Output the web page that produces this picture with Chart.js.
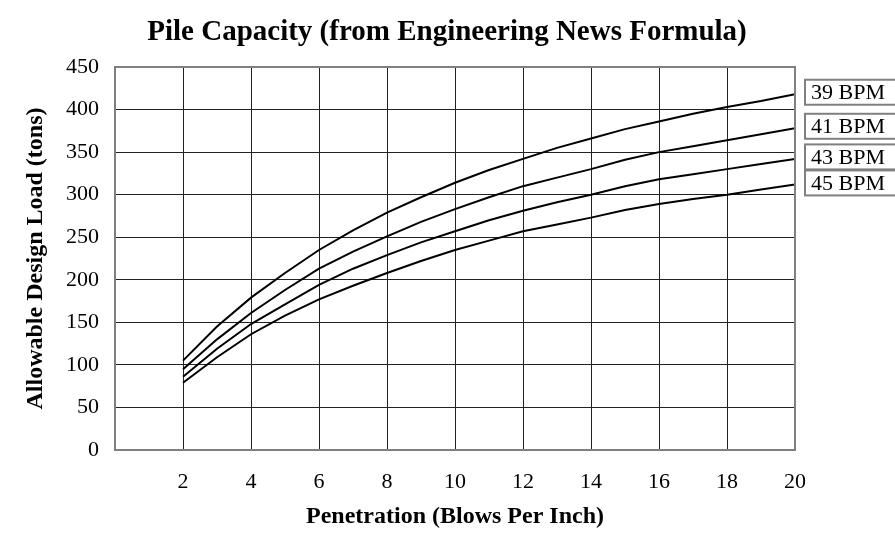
<!DOCTYPE html>
<html>
<head>
<meta charset="utf-8">
<title>Pile Capacity</title>
<script src="https://cdn.jsdelivr.net/npm/chart.js@4.4.0/dist/chart.umd.min.js"></script>
<style>
    html, body { margin: 0; padding: 0; background: #fff; }
    #wrap { width: 895px; height: 534px; }
</style>
</head>
<body>
<div id="wrap"><canvas id="pileChart" width="895" height="534"></canvas></div>
<script>
// Penetration values (blows per inch)
const penetration = [2, 3, 4, 5, 6, 7, 8, 9, 10, 11, 12, 13, 14, 15, 16, 17, 18, 19, 20];

// Allowable design load (tons) for each hammer speed
const load39 = [105, 145, 179, 208, 235, 258, 279, 297, 314, 329, 342, 355, 366, 377, 386, 395, 403, 410, 418];
const load41 = [95, 130, 161, 188, 213, 233, 251, 268, 283, 297, 310, 320, 330, 341, 350, 357, 364, 371, 378];
const load43 = [86, 119, 148, 171, 194, 213, 229, 244, 257, 270, 281, 291, 300, 310, 318, 324, 330, 336, 342];
const load45 = [79, 109, 136, 158, 177, 193, 208, 222, 235, 246, 257, 265, 273, 282, 289, 295, 300, 306, 312];

const seriesNames = ['39 BPM', '41 BPM', '43 BPM', '45 BPM'];

// Axis ticks
const xTicks = [2, 4, 6, 8, 10, 12, 14, 16, 18, 20];
const yTicks = [0, 50, 100, 150, 200, 250, 300, 350, 400, 450];

const chartTitle = 'Pile Capacity (from Engineering News Formula)';

Chart.defaults.font.family = "'Liberation Serif', 'Times New Roman', serif";
Chart.defaults.color = '#000';

// Function to pair x and y values for a linear x axis
function toPoints(values) {
    return penetration.map((p, i) => ({ x: p, y: values[i] }));
}

// Title drawn by hand so it can sit off-centre like the original
const titlePlugin = {
    id: 'pageTitle',
    afterDraw(chart) {
        const ctx = chart.ctx;
        ctx.save();
        ctx.font = "bold 29px 'Liberation Serif'";
        ctx.fillStyle = '#000';
        ctx.textAlign = 'center';
        ctx.textBaseline = 'middle';
        ctx.fillText(chartTitle, 447, 33);
        ctx.restore();
    }
};

// Gray frame around the plot area
const framePlugin = {
    id: 'frame',
    afterDatasetsDraw(chart) {
        const { ctx, chartArea } = chart;
        ctx.save();
        ctx.strokeStyle = '#808080';
        ctx.lineWidth = 2;
        ctx.strokeRect(chartArea.left, chartArea.top, chartArea.right - chartArea.left, chartArea.bottom - chartArea.top);
        ctx.restore();
    }
};

// Boxed series names at the right end of every line
const endLabelPlugin = {
    id: 'endLabels',
    afterDraw(chart) {
        const ctx = chart.ctx;
        const boxH = 25;
        const boxX = chart.chartArea.right + 10;
        let lastBottom = -Infinity;
        ctx.save();
        ctx.font = "22px 'Liberation Serif'";
        ctx.textBaseline = 'middle';
        ctx.textAlign = 'left';
        chart.data.datasets.forEach((ds, i) => {
            const pts = chart.getDatasetMeta(i).data;
            const endY = pts[pts.length - 1].y;
            let top = endY - 2 - boxH / 2;
            if (top < lastBottom + 1) top = lastBottom + 1;
            lastBottom = top + boxH;
            ctx.fillStyle = '#fff';
            ctx.fillRect(boxX, top, 120, boxH);
            ctx.strokeStyle = '#808080';
            ctx.lineWidth = 2;
            ctx.strokeRect(boxX, top, 120, boxH);
            ctx.fillStyle = '#000';
            ctx.fillText(ds.label, boxX + 6, top + boxH / 2 + 1);
        });
        ctx.restore();
    }
};

function buildChart() {
    const ctx = document.getElementById('pileChart').getContext('2d');
    const allLoads = [load39, load41, load43, load45];

    new Chart(ctx, {
        type: 'line',
        data: {
            datasets: allLoads.map((vals, i) => ({
                label: seriesNames[i],
                data: toPoints(vals),
                borderColor: '#000',
                borderWidth: 2,
                pointRadius: 0,
                tension: 0,
                fill: false
            }))
        },
        options: {
            responsive: false,
            animation: false,
            layout: { padding: { left: 0, right: 100, top: 67, bottom: 0 } },
            plugins: {
                legend: { display: false },
                tooltip: { enabled: false },
                title: { display: false }
            },
            scales: {
                x: {
                    type: 'linear',
                    min: 0,
                    max: 20,
                    afterBuildTicks: (axis) => {
                        axis.ticks = [0].concat(xTicks).map(v => ({ value: v }));
                    },
                    afterFit: (axis) => { axis.height = 84; },
                    ticks: {
                        font: { size: 22 },
                        padding: 19,
                        maxRotation: 0,
                        callback: (v) => (v === 0 ? '' : v)
                    },
                    grid: { color: '#222', lineWidth: 1, drawTicks: false },
                    border: { display: false },
                    title: {
                        display: true,
                        text: 'Penetration (Blows Per Inch)',
                        font: { size: 24, weight: 'bold' },
                        padding: { top: 0, bottom: 3 }
                    }
                },
                y: {
                    min: 0,
                    max: 450,
                    afterBuildTicks: (axis) => {
                        axis.ticks = yTicks.map(v => ({ value: v }));
                    },
                    afterFit: (axis) => { axis.width = 115; },
                    ticks: { font: { size: 22 }, padding: 16 },
                    grid: { color: '#222', lineWidth: 1, drawTicks: false },
                    border: { display: false },
                    title: {
                        display: true,
                        text: 'Allowable Design Load (tons)',
                        font: { size: 24, weight: 'bold' },
                        padding: { top: 21, bottom: 0 }
                    }
                }
            }
        },
        plugins: [framePlugin, endLabelPlugin, titlePlugin]
    });
}

window.onload = buildChart;
</script>
</body>
</html>
